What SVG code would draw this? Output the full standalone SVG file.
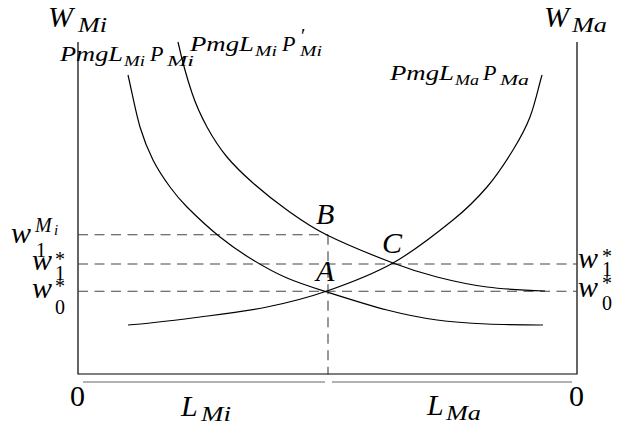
<svg xmlns="http://www.w3.org/2000/svg" width="621" height="426" viewBox="0 0 621 426">
<style>
.ax{stroke:#000;stroke-width:1.2;fill:none}
.base{stroke:#666;stroke-width:1.2;fill:none}
.dash{stroke:#444;stroke-width:1.1;stroke-dasharray:10 6.5;fill:none}
.crv{stroke:#000;stroke-width:1.2;fill:none}
.tx{font-family:"Liberation Serif","DejaVu Serif",serif;font-style:italic;fill:#000}
.u{font-style:normal}
.big{font-size:30px}
.mid{font-size:22px}
.sub{font-size:20px}
.ssub{font-size:15px}
</style>
<rect width="621" height="426" fill="#fff"/>
<g id="axes">
<path class="ax" d="M78,42 V374 H577 V42"/>
<path class="base" d="M83,382 H325 M332,382 H572"/>
</g>
<g id="guides">
<path class="dash" d="M78,234.7 H328"/>
<path class="dash" d="M78,264 H577"/>
<path class="dash" d="M78,291.3 H577"/>
<path class="dash" d="M328,234.7 V375"/>
</g>
<g id="curves">
<path id="curve-PmgLMiPMi" class="crv" d="M128,75 C132,92.3 135.8,112.8 140,127 C144.2,141.2 148,150 153,160 C158,170 164.3,179.2 170,187 C175.7,194.8 178.7,198.7 187,207 C195.3,215.3 209,228.2 220,237 C231,245.8 241.8,253.2 253,260 C264.2,266.8 274.7,272.7 287,278 C299.3,283.3 310.3,286.7 327,292 C343.7,297.3 368.7,305.3 387,310 C405.3,314.7 420.3,317.7 437,320 C453.7,322.3 469.3,323.2 487,324 C504.7,324.8 524.3,324.7 543,325"/>
<path id="curve-PmgLMiPMiprime" class="crv" d="M178,42 C182,60 187.2,78.8 192,93 C196.8,107.2 201.2,116.3 207,127 C212.8,137.7 219.3,147.7 227,157 C234.7,166.3 243,174.2 253,183 C263,191.8 274.7,201.3 287,210 C299.3,218.7 309.3,226.2 327,235 C344.7,243.8 374.7,256 393,263 C411.3,270 421.3,273 437,277 C452.7,281 469,284.7 487,287 C505,289.3 525.7,290.3 545,291"/>
<path id="curve-PmgLMaPMa" class="crv" d="M128,325 C152,323.3 176.8,320 200,317 C223.2,314 245.8,311.3 267,307 C288.2,302.7 306,298.3 327,291 C348,283.7 372,274.8 393,263 C414,251.2 437.3,232.7 453,220 C468.7,207.3 477,198.7 487,187 C497,175.3 505.8,161.7 513,150 C520.2,138.3 525.2,129.5 530,117 C534.8,104.5 538,89 542,75"/>
</g>
<g id="axis-labels">
<text class="tx big" x="48" y="27">W</text><text class="tx sub" x="78" y="32" textLength="29" lengthAdjust="spacingAndGlyphs">Mi</text>
<text class="tx big" x="544" y="27">W</text><text class="tx sub" x="572" y="32" textLength="35" lengthAdjust="spacingAndGlyphs">Ma</text>
<text class="tx big u" x="70" y="406">0</text>
<text class="tx big u" x="569" y="406">0</text>
<text class="tx big" x="181" y="416">L</text><text class="tx sub" x="201" y="421" textLength="30" lengthAdjust="spacingAndGlyphs">Mi</text>
<text class="tx big" x="427" y="415">L</text><text class="tx sub" x="446" y="420" textLength="35" lengthAdjust="spacingAndGlyphs">Ma</text>
</g>
<g id="curve-labels">
<text class="tx mid" x="60" y="61" textLength="63" lengthAdjust="spacingAndGlyphs">PmgL</text><text class="tx ssub" x="124" y="66" textLength="21" lengthAdjust="spacingAndGlyphs">Mi</text><text class="tx mid" x="150" y="61">P</text><text class="tx ssub" x="167" y="66" textLength="27" lengthAdjust="spacingAndGlyphs">Mi</text>
<text class="tx mid" x="190" y="51" textLength="64" lengthAdjust="spacingAndGlyphs">PmgL</text><text class="tx ssub" x="255" y="56" textLength="22" lengthAdjust="spacingAndGlyphs">Mi</text><text class="tx mid" x="282" y="51">P</text><text class="tx sub u" x="301" y="43">′</text><text class="tx ssub" x="300" y="56" textLength="22" lengthAdjust="spacingAndGlyphs">Mi</text>
<text class="tx mid" x="390" y="80" textLength="64" lengthAdjust="spacingAndGlyphs">PmgL</text><text class="tx ssub" x="455" y="85" textLength="24" lengthAdjust="spacingAndGlyphs">Ma</text><text class="tx mid" x="483" y="80">P</text><text class="tx ssub" x="500" y="85" textLength="29" lengthAdjust="spacingAndGlyphs">Ma</text>
</g>
<g id="point-labels">
<text class="tx big" x="316" y="224">B</text>
<text class="tx big" x="316" y="281">A</text>
<text class="tx big" x="382" y="253">C</text>
</g>
<g id="wage-labels">
<text class="tx big" x="11" y="243">w</text><text class="tx sub" x="35" y="232">M</text><text class="tx ssub" x="54" y="235">i</text><text class="tx sub u" x="36" y="257">1</text>
<text class="tx big" x="32" y="270">w</text><text class="tx sub u" x="55" y="266">*</text><text class="tx sub u" x="55" y="280">1</text>
<text class="tx big" x="32" y="298">w</text><text class="tx sub u" x="55" y="293">*</text><text class="tx sub u" x="55" y="314">0</text>
<text class="tx big" x="578" y="268">w</text><text class="tx sub u" x="602" y="263">*</text><text class="tx sub u" x="602" y="276">1</text>
<text class="tx big" x="578" y="297">w</text><text class="tx sub u" x="602" y="290">*</text><text class="tx sub u" x="602" y="310">0</text>
</g>
</svg>
